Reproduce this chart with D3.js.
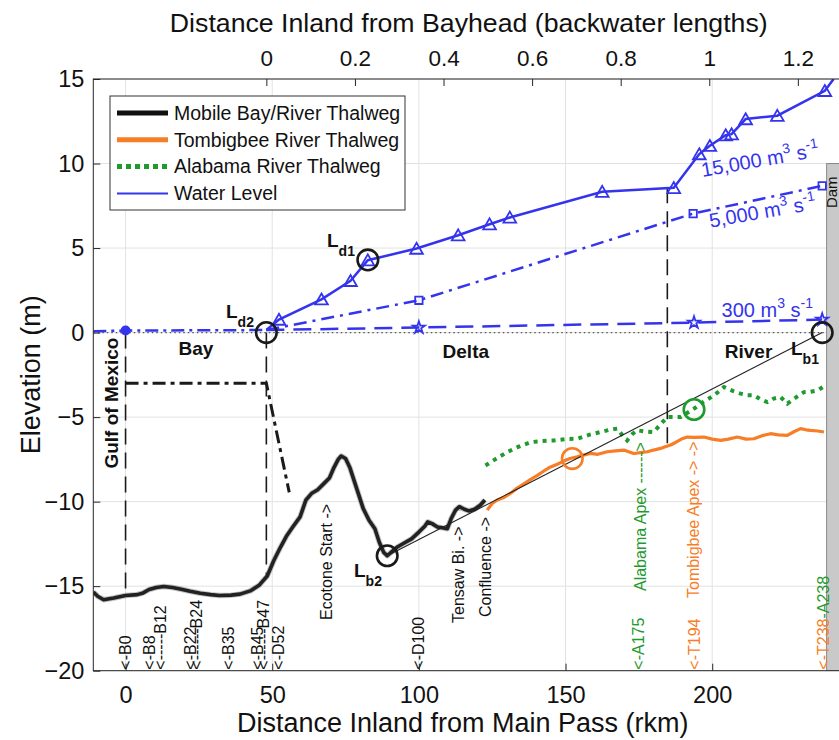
<!DOCTYPE html>
<html>
<head>
<meta charset="utf-8">
<script src="https://cdn.jsdelivr.net/npm/d3@7"></script>
<style>
  html, body { margin: 0; padding: 0; background: #fff; }
  svg { display: block; font-family: "Liberation Sans", Arial, Helvetica, sans-serif; }
</style>
</head>
<body>
<svg id="chart" width="839" height="740"></svg>
<script>
// ---- Thalweg profiles: distance inland from Main Pass (rkm) and bed elevation (m)
const mobileX = [-11, -9.5, -7.5, -4, 0, 4, 6, 8, 10.5, 13, 16, 19, 22, 25.5, 29, 32, 36, 39, 42.5, 45.5, 48.3,
  50.5, 52.8, 55, 57, 59.5, 61.5, 63.5, 65.5, 67.5, 69.5, 71, 72.5, 73.5, 75, 76.5, 78, 79.5, 81, 83, 85,
  86.5, 88, 89.2, 90.5, 92.5, 95, 97.5, 100, 102, 103, 104.5, 106.3, 108, 109.7, 111, 112.5, 113.8, 115.5,
  117, 119, 121, 122.5];
const mobileY = [-15.35, -15.6, -15.8, -15.7, -15.55, -15.5, -15.4, -15.2, -15.08, -15.02, -15.08, -15.18,
  -15.3, -15.42, -15.5, -15.55, -15.53, -15.47, -15.28, -14.95, -14.4, -13.5, -12.7, -12.0, -11.5, -10.9,
  -9.9, -9.5, -9.3, -8.95, -8.6, -8.0, -7.5, -7.3, -7.45, -8.0, -8.8, -9.6, -10.4, -11.1, -11.6, -12.4,
  -13.0, -13.2, -13.0, -12.7, -12.45, -12.2, -11.8, -11.45, -11.2, -11.3, -11.5, -11.55, -11.6, -11.0,
  -10.5, -10.3, -10.45, -10.55, -10.45, -10.2, -9.9];

const tombigbeeX = [123.3, 125, 126.7, 129, 131.3, 133.5, 135.8, 138, 140.4, 142.5, 144.9, 147, 149.4, 151.5,
  154, 156, 158.5, 161, 164.2, 167, 169.9, 171.5, 173.3, 175.5, 177.9, 180, 182.4, 184, 185.8, 187.5, 189.5,
  191.5, 194, 197.2, 200, 202.9, 205.5, 208.6, 211.5, 214.2, 217, 219.9, 222.5, 225.6, 228, 230.1, 232,
  233.5, 236, 238.1];
const tombigbeeY = [-10.5, -10.1, -9.9, -9.75, -9.5, -9.2, -8.95, -8.7, -8.45, -8.2, -7.95, -7.8, -7.6, -7.45,
  -7.35, -7.25, -7.15, -7.2, -7.05, -7.0, -6.95, -7.05, -7.15, -7.1, -7.05, -6.95, -6.85, -6.75, -6.65, -6.5,
  -6.3, -6.18, -6.2, -6.18, -6.3, -6.38, -6.3, -6.18, -6.3, -6.28, -6.1, -5.98, -6.05, -6.08, -5.85, -5.68,
  -5.75, -5.78, -5.82, -5.88];

const alabamaX = [122.7, 126, 130.1, 134, 138.1, 142, 146, 150, 154, 158, 162, 165, 167.6, 169.5, 171, 172.8,
  174.4, 177, 180.1, 182.5, 184.7, 187, 189.2, 191.5, 193.8, 197, 200.6, 202.5, 204, 207, 209.7, 212, 214.2,
  216.5, 218.8, 221, 223.3, 225.6, 228, 231.3, 233.5, 235.8, 238.7];
const alabamaY = [-7.86, -7.5, -7.07, -6.75, -6.48, -6.42, -6.38, -6.3, -6.28, -6.05, -5.88, -5.75, -5.68,
  -6.1, -6.38, -6.0, -5.78, -5.85, -5.88, -5.4, -5.0, -5.0, -5.0, -4.75, -4.5, -4.1, -3.71, -3.45, -3.22,
  -3.45, -3.61, -3.7, -3.71, -3.95, -4.11, -3.9, -3.81, -4.2, -3.9, -3.52, -3.5, -3.42, -3.12];

// Schematic bay bed (dash-dot) and bay water level
const bayBedX = [0, 48, 55.8];
const bayBedY = [-3, -3, -9.45];
const bayLevelX = [-11, 0, 48];
const bayLevelY = [0.08, 0.12, 0.15];

// ---- Water levels for three discharges (m3/s)
const q15000X = [48, 52.3, 66.8, 76.7, 82.6, 99.2, 113.4, 124.1, 131.0, 162.5, 186.9, 195.6, 199.2, 204.6,
  206.6, 211.4, 222.2, 238.4, 241.4];
const q15000Y = [0.15, 0.77, 1.97, 3.06, 4.28, 4.97, 5.76, 6.41, 6.81, 8.33, 8.56, 10.56, 11.05, 11.68,
  11.74, 12.63, 12.83, 14.30, 15.0];
const q5000X = [48, 100, 193.5, 237.5];
const q5000Y = [0.15, 1.91, 7.04, 8.68];
const q300X = [48, 100, 193.8, 237.5];
const q300Y = [0.15, 0.30, 0.59, 0.77];
const flowNames = ["15,000", "5,000", "300"];

// ---- Characteristic points (rkm, m)
const markNames = ["Ld2", "Ld1", "Lb2", "Lb1", "Tombigbee", "Alabama"];
const markX = [48, 82.6, 89.2, 237.5, 152.3, 193.8];
const markY = [0, 4.3, -13.2, 0, -7.45, -4.55];

// Boundaries between Gulf / Bay / Delta / River
const boundaryX = [0, 48, 184.7];
const boundaryTop = [0, 0, 8.6];
const boundaryBottom = [-15.55, -14.4, -6.7];

// Dam
const damX = 239;
const damTop = 10;

// Station markers along the profile
const stationRkm = [0, 8, 12, 22, 24, 35, 45, 47, 52, 100, 175, 194];
const stationText = ["<-B0", "<-B8", "<-----B12", "<-B22", "<------B24", "<-B35", "<-B45", "<------B47",
  "<-D52", "<-D100", "<-A175", "<-T194"];
const featureRkm = [68.5, 113.4, 122.7, 175.6, 193.5];
const featureText = ["Ecotone Start ->", "Tensaw Bi. ->", "Confluence ->", "Alabama Apex ------>",
  "Tombigbee Apex -> ->"];

// Axis ticks
const xTicks = [0, 50, 100, 150, 200];
const yTicks = [-20, -15, -10, -5, 0, 5, 10, 15];
const topTicks = [0, 0.2, 0.4, 0.6, 0.8, 1, 1.2];
const bayheadRkm = 48;        // bayhead position (rkm)
const backwaterLength = 151;  // one backwater length (km)

const legendNames = ["Mobile Bay/River Thalweg", "Tombigbee River Thalweg", "Alabama River Thalweg", "Water Level"];

// ---- Colours
const BLUE = "#3434ee", ORANGE = "#f77d26", GREEN = "#1f9a2e", INK = "#1a1a1a";

// ---- Scales
const svg = d3.select("#chart");
const plotL = 93.3, plotR = 844.2, plotT = 79, plotB = 670.7;
const x = d3.scaleLinear().domain([-11, 245]).range([plotL, plotR]);
const y = d3.scaleLinear().domain([-20, 15]).range([plotB, plotT]);
const xTop = d3.scaleLinear()
  .domain(x.domain().map(v => (v - bayheadRkm) / backwaterLength))
  .range(x.range());

const zip = (xs, ys) => xs.map((v, i) => [v, ys[i]]);
const line = d3.line().x(d => x(d[0])).y(d => y(d[1]));

svg.append("defs").append("clipPath").attr("id", "plotClip")
  .append("rect").attr("x", plotL).attr("y", plotT).attr("width", plotR - plotL).attr("height", plotB - plotT);

// ---- Grid
const grid = svg.append("g").attr("stroke", "#e2e2e2").attr("stroke-width", 1);
xTicks.forEach(t => grid.append("line").attr("x1", x(t)).attr("x2", x(t)).attr("y1", plotT).attr("y2", plotB));
yTicks.forEach(t => grid.append("line").attr("x1", plotL).attr("x2", plotR).attr("y1", y(t)).attr("y2", y(t)));

const plot = svg.append("g").attr("clip-path", "url(#plotClip)");

// Zero datum
plot.append("line").attr("x1", x(-11)).attr("x2", plotR).attr("y1", y(0)).attr("y2", y(0))
  .attr("stroke", "#555").attr("stroke-width", 1.2).attr("stroke-dasharray", "1.5,3");

// Dam
plot.append("rect").attr("x", x(damX)).attr("y", y(damTop)).attr("width", plotR - x(damX) + 5)
  .attr("height", y(-20) - y(damTop)).attr("fill", "#c9c9c9").attr("stroke", "#8a8a8a").attr("stroke-width", 1);
svg.append("text").attr("transform", `translate(${x(damX) + 10.5},${y(8.3)}) rotate(-90)`)
  .attr("text-anchor", "middle").attr("font-size", 15).attr("fill", "#111").text("Dam");

// Boundary lines
boundaryX.forEach((bx, i) => {
  plot.append("line").attr("x1", x(bx)).attr("x2", x(bx)).attr("y1", y(boundaryTop[i])).attr("y2", y(boundaryBottom[i]))
    .attr("stroke", INK).attr("stroke-width", 1.6).attr("stroke-dasharray", "16,8");
});

// Bay bed schematic
plot.append("path").datum(zip(bayBedX, bayBedY)).attr("d", line).attr("fill", "none")
  .attr("stroke", INK).attr("stroke-width", 3).attr("stroke-dasharray", "13,5,4,5");

// Thalwegs
plot.append("path").datum(zip(mobileX, mobileY)).attr("d", line).attr("fill", "none")
  .attr("stroke", "#888").attr("stroke-width", 5.5).attr("stroke-opacity", 0.5).attr("stroke-linejoin", "round");
plot.append("path").datum(zip(mobileX, mobileY)).attr("d", line).attr("fill", "none")
  .attr("stroke", "#222").attr("stroke-width", 3.6).attr("stroke-linejoin", "round");
plot.append("path").datum(zip(tombigbeeX, tombigbeeY)).attr("d", line).attr("fill", "none")
  .attr("stroke", ORANGE).attr("stroke-width", 3.2).attr("stroke-linejoin", "round");
plot.append("path").datum(zip(alabamaX, alabamaY)).attr("d", line).attr("fill", "none")
  .attr("stroke", GREEN).attr("stroke-width", 4).attr("stroke-dasharray", "4,5");

// Bed-slope line between Lb2 and Lb1
const lb2 = markNames.indexOf("Lb2"), lb1 = markNames.indexOf("Lb1");
plot.append("line").attr("x1", x(markX[lb2])).attr("y1", y(markY[lb2])).attr("x2", x(markX[lb1])).attr("y2", y(markY[lb1]))
  .attr("stroke", "#222").attr("stroke-width", 1.1);

// Water levels
plot.append("path").datum(zip(bayLevelX, bayLevelY)).attr("d", line).attr("fill", "none")
  .attr("stroke", BLUE).attr("stroke-width", 2.5).attr("stroke-dasharray", "13,5,3,5");
plot.append("circle").attr("cx", x(bayLevelX[1])).attr("cy", y(bayLevelY[1])).attr("r", 5).attr("fill", BLUE);

const flows = [
  { xs: q15000X, ys: q15000Y, dash: null, sym: d3.symbolTriangle, size: 70, last: -1 },
  { xs: q5000X, ys: q5000Y, dash: "13,6,3,6", sym: d3.symbolSquare, size: 55, last: undefined },
  { xs: q300X, ys: q300Y, dash: "18,9", sym: d3.symbolStar, size: 45, last: undefined }
];
flows.forEach(f => {
  const pts = zip(f.xs, f.ys);
  plot.append("path").datum(pts).attr("d", line).attr("fill", "none")
    .attr("stroke", BLUE).attr("stroke-width", 2.5).attr("stroke-dasharray", f.dash);
  const sym = d3.symbol().type(f.sym).size(f.size);
  plot.selectAll(null).data(pts.slice(1, f.last)).join("path")
    .attr("transform", d => `translate(${x(d[0])},${y(d[1]) + (f.sym === d3.symbolTriangle ? 1.5 : 0)})`)
    .attr("d", sym).attr("fill", "none").attr("stroke", BLUE).attr("stroke-width", 1.8);
});

// Flow labels with superscripts
const flowLabelPos = [[196.7, 9.2, -10], [199.4, 6.2, -10], [203.2, 0.9, 0]];
flowNames.forEach((name, i) => {
  const [lx, ly, ang] = flowLabelPos[i];
  const t = svg.append("text").attr("transform", `translate(${x(lx)},${y(ly)}) rotate(${ang})`)
    .attr("font-size", 20).attr("fill", BLUE);
  t.append("tspan").text(name + " m");
  t.append("tspan").attr("font-size", 14).attr("dy", -9).text("3");
  t.append("tspan").attr("dy", 9).text(" s");
  t.append("tspan").attr("font-size", 14).attr("dy", -9).text("-1");
});

// Characteristic-point circles
const markColor = [INK, INK, INK, INK, ORANGE, GREEN];
markNames.forEach((n, i) => {
  svg.append("circle").attr("cx", x(markX[i])).attr("cy", y(markY[i])).attr("r", 10.3)
    .attr("fill", "none").attr("stroke", markColor[i]).attr("stroke-width", 2.6);
});

// L labels with subscripts
const lLabels = [["d2", 226, 318], ["d1", 327, 247], ["b2", 354, 577], ["b1", 791, 355]];
lLabels.forEach(([sub, lx, ly]) => {
  const t = svg.append("text").attr("x", lx).attr("y", ly).attr("font-weight", "bold").attr("font-size", 19).attr("fill", "#111");
  t.append("tspan").text("L");
  t.append("tspan").attr("font-size", 14).attr("dy", 9).text(sub);
});

// Region names
const regions = [["Bay", 24, -1.3], ["Delta", 116, -1.5], ["River", 212.4, -1.5]];
regions.forEach(([name, rx, ry]) => {
  svg.append("text").attr("x", x(rx)).attr("y", y(ry)).attr("text-anchor", "middle")
    .attr("font-weight", "bold").attr("font-size", 19).attr("fill", "#111").text(name);
});
svg.append("text").attr("transform", `translate(${x(0) - 8},${y(-0.3)}) rotate(-90)`)
  .attr("text-anchor", "end").attr("font-weight", "bold").attr("font-size", 19).attr("fill", "#111").text("Gulf of Mexico");

// Station and feature labels (rotated)
function stationColor(s) { return /A\d/.test(s) ? GREEN : /T\d/.test(s) ? ORANGE : "#111"; }
stationText.forEach((s, i) => {
  svg.append("text").attr("transform", `translate(${x(stationRkm[i])},${plotB - 1}) rotate(-90)`)
    .attr("dy", "0.35em").attr("font-size", 16).attr("fill", stationColor(s)).text(s);
});
const tr = svg.append("text").attr("transform", `translate(${x(238)},${plotB - 1}) rotate(-90)`)
  .attr("dy", "0.35em").attr("font-size", 16);
tr.append("tspan").attr("fill", ORANGE).text("<-T238");
tr.append("tspan").attr("fill", GREEN).text("-A238");

const featureStart = [620, 623, 617, 591, 598];
const featureColor = ["#111", "#111", "#111", GREEN, ORANGE];
featureText.forEach((s, i) => {
  svg.append("text").attr("transform", `translate(${x(featureRkm[i])},${featureStart[i]}) rotate(-90)`)
    .attr("dy", "0.35em").attr("font-size", 16).attr("fill", featureColor[i]).text(s);
});

// ---- Axes
function styleAxis(size) {
  return g => {
    g.select(".domain").remove();
    g.selectAll(".tick line").attr("stroke", "#262626");
    g.selectAll(".tick text").attr("fill", "#111").attr("font-size", size)
      .attr("font-family", '"Liberation Sans", Arial, Helvetica, sans-serif');
  };
}
svg.append("g").attr("transform", `translate(0,${plotB})`)
  .call(d3.axisBottom(x).tickValues(xTicks).tickSize(-7).tickPadding(16)).call(styleAxis(23.5));
svg.append("g").attr("transform", `translate(${plotL},0)`)
  .call(d3.axisLeft(y).tickValues(yTicks).tickSize(-7).tickPadding(9)).call(styleAxis(23.5));
svg.append("g").attr("transform", `translate(0,${plotT})`)
  .call(d3.axisTop(xTop).tickValues(topTicks).tickSize(-7).tickPadding(13).tickFormat(d3.format("~g"))).call(styleAxis(22.5));

// Frame
svg.append("rect").attr("x", plotL).attr("y", plotT).attr("width", plotR - plotL).attr("height", plotB - plotT)
  .attr("fill", "none").attr("stroke", "#262626").attr("stroke-width", 1);

// Axis titles
const mid = (plotL + plotR) / 2;
svg.append("text").attr("x", mid).attr("y", 32).attr("text-anchor", "middle").attr("font-size", 26.7).attr("fill", "#111")
  .text("Distance Inland from Bayhead (backwater lengths)");
svg.append("text").attr("x", mid - 6).attr("y", 732).attr("text-anchor", "middle").attr("font-size", 27).attr("fill", "#111")
  .text("Distance Inland from Main Pass (rkm)");
svg.append("text").attr("transform", `translate(40,${(plotT + plotB) / 2}) rotate(-90)`).attr("text-anchor", "middle")
  .attr("font-size", 27).attr("fill", "#111").text("Elevation (m)");

// ---- Legend
const lg = svg.append("g");
lg.append("rect").attr("x", 110).attr("y", 96).attr("width", 295).attr("height", 114)
  .attr("fill", "#fff").attr("stroke", "#333").attr("stroke-width", 1);
const legendStyle = [
  { c: "#111", w: 5, dash: null }, { c: ORANGE, w: 5, dash: null },
  { c: GREEN, w: 5, dash: "5,4" }, { c: BLUE, w: 2, dash: null }
];
legendNames.forEach((n, i) => {
  const cy = 113 + i * 26.8;
  lg.append("line").attr("x1", 117).attr("x2", 168).attr("y1", cy).attr("y2", cy)
    .attr("stroke", legendStyle[i].c).attr("stroke-width", legendStyle[i].w).attr("stroke-dasharray", legendStyle[i].dash);
  lg.append("text").attr("x", 174).attr("y", cy).attr("dy", "0.35em").attr("font-size", 19.5).attr("fill", "#111").text(n);
});
</script>
</body>
</html>
